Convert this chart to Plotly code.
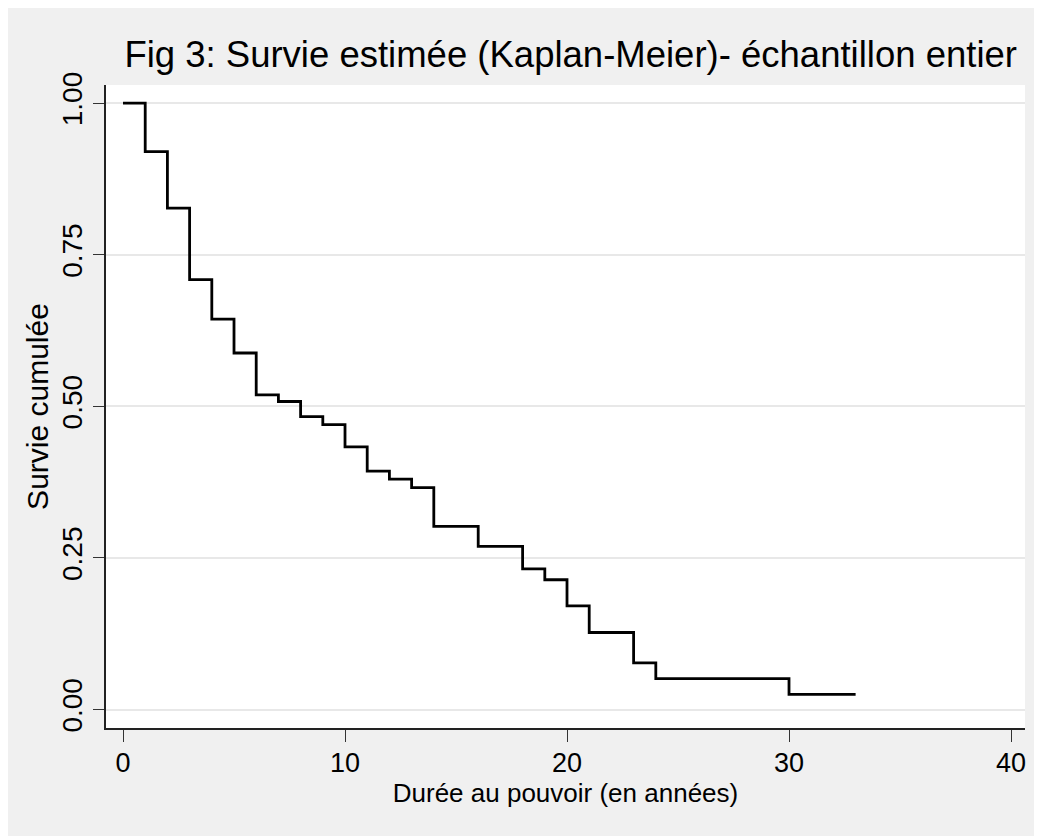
import plotly.graph_objects as go

# Kaplan-Meier estimate
times = [0, 1, 2, 3, 4, 5, 6, 7, 8, 9, 10, 11, 12, 13, 14, 16, 18, 19, 20, 21, 23, 24, 30, 33]
survival = [1.000, 0.920, 0.827, 0.709, 0.644, 0.588, 0.519, 0.508, 0.483, 0.470,
            0.433, 0.393, 0.380, 0.366, 0.302, 0.269, 0.232, 0.214, 0.171, 0.127,
            0.077, 0.051, 0.025, 0.025]

x_ticks = [0, 10, 20, 30, 40]
y_ticks = [0, 0.25, 0.5, 0.75, 1.0]
y_tick_labels = ["0.00", "0.25", "0.50", "0.75", "1.00"]

title_text = "Fig 3: Survie estimée (Kaplan-Meier)- échantillon entier"
x_title = "Durée au pouvoir (en années)"
y_title = "Survie cumulée"

font_family = "Liberation Sans, Arial, Helvetica, sans-serif"

fig = go.Figure()
fig.add_trace(go.Scatter(
    x=times, y=survival, mode="lines", line=dict(shape="hv", color="black", width=2.8),
    showlegend=False, hoverinfo="x+y",
))

fig.update_layout(
    width=1042, height=836,
    paper_bgcolor="#f0f0f0", plot_bgcolor="white",
    margin=dict(l=98, r=25, t=77, b=116),
    title=dict(text=title_text, x=1009 / 1042, xanchor="right", y=1 - 59 / 836, yanchor="bottom",
               xref="container", yref="container",
               font=dict(family=font_family, size=36.5, color="black")),
    xaxis=dict(
        range=[-0.766, 40.63], tickmode="array", tickvals=x_ticks,
        ticks="outside", ticklen=12, tickwidth=1.2, tickcolor="#333",
        showline=True, linecolor="#222", linewidth=1.6,
        showgrid=False, zeroline=False,
        tickfont=dict(family=font_family, size=27, color="black"),
        ticklabelstandoff=-2,
        title=dict(text=x_title, font=dict(family=font_family, size=26, color="black"), standoff=2),
    ),
    yaxis=dict(
        range=[-0.0305, 1.030], tickmode="array", tickvals=y_ticks, ticktext=y_tick_labels,
        tickangle=-90,
        ticks="outside", ticklen=11, tickwidth=1.2, tickcolor="#333",
        showline=True, linecolor="#222", linewidth=1.6,
        showgrid=True, gridcolor="#e8e8e8", gridwidth=2, zeroline=False,
        tickfont=dict(family=font_family, size=28, color="black"),
        title=dict(text=y_title, font=dict(family=font_family, size=30, color="black"), standoff=0),
    ),
)

fig.write_html("out.html")
